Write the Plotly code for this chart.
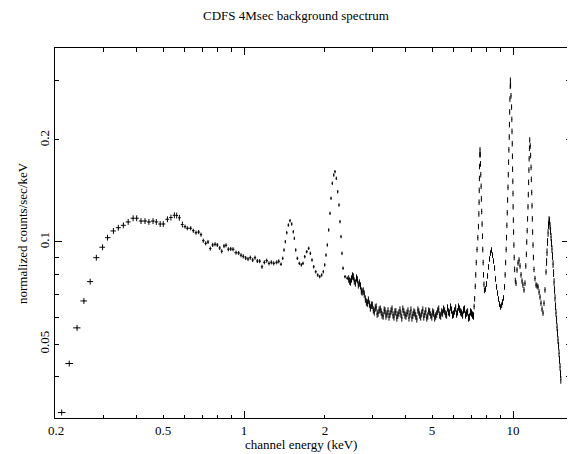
import numpy as np
import plotly.graph_objects as go

# ---- data (bin centre energy in keV, normalized counts/sec/keV) ----
energy_keV = [
    # soft band (wide bins)
    0.210, 0.224, 0.2395, 0.254, 0.268, 0.2825, 0.298, 0.311, 0.327, 0.341,
    0.356, 0.371, 0.387, 0.399, 0.414, 0.4285, 0.443, 0.459, 0.472, 0.488,
    0.501, 0.519, 0.535, 0.551, 0.562, 0.575, 0.590,
    0.6035, 0.6154, 0.6336, 0.6478, 0.6630, 0.6785, 0.6920, 0.7058, 0.7204, 0.7348,
    0.7494, 0.7649, 0.7802, 0.7957, 0.8124, 0.8263, 0.8425, 0.8571, 0.8743, 0.8925,
    0.9101, 0.9338, 0.9556, 0.9746, 0.9940, 1.0146, 1.0348, 1.0554, 1.0773, 1.0987,
    1.1206, 1.1440, 1.1666, 1.1899, 1.2145, 1.2386, 1.2634, 1.2896, 1.3233, 1.3460,
    # Al / Si / Au-M lines
    1.3728, 1.3931, 1.4086, 1.4243, 1.4415, 1.4616, 1.4825, 1.5042, 1.5251, 1.5382,
    1.5567, 1.5782, 1.6056, 1.6331, 1.6571, 1.6816, 1.7106, 1.7400, 1.7642, 1.7896,
    1.8157, 1.8477, 1.8793, 1.9116, 1.9445, 1.9716, 1.9953, 2.0174, 2.0402, 2.0648,
    2.0878, 2.1057, 2.1295, 2.1552, 2.1791, 2.2034, 2.2299, 2.2551, 2.2744, 2.2939,
    2.3135, 2.3335, 2.3741, 2.4210,
    # hard continuum
    2.45, 2.49, 2.53, 2.57, 2.62, 2.66, 2.71, 2.75, 2.80, 2.85,
    2.90, 2.95, 3.00, 3.05, 3.10, 3.15, 3.21, 3.26, 3.32, 3.37,
    3.43, 3.49, 3.55, 3.61, 3.67, 3.73, 3.80, 3.86, 3.93, 4.00,
    4.07, 4.14, 4.21, 4.28, 4.35, 4.43, 4.50, 4.58, 4.66, 4.74,
    4.82, 4.90, 4.99, 5.07, 5.16, 5.25, 5.34, 5.43, 5.52, 5.62,
    5.71, 5.81, 5.91, 6.01, 6.12, 6.22, 6.33, 6.44, 6.55, 6.66,
    6.78, 6.89, 7.01, 7.13,
    # Ni K alpha
    7.17, 7.20, 7.24, 7.27, 7.30, 7.35, 7.40, 7.44, 7.465, 7.48,
    7.49, 7.50, 7.51, 7.525, 7.54, 7.555, 7.57, 7.59, 7.61, 7.63,
    7.65, 7.675, 7.70, 7.72, 7.745, 7.77, 7.80, 7.83,
    # Ni K beta bump
    7.90, 7.97, 8.04, 8.11, 8.18, 8.25, 8.32, 8.39, 8.46, 8.54,
    8.61, 8.68, 8.76, 8.83, 8.91, 8.99, 9.07, 9.14, 9.22, 9.30,
    # Au L alpha
    9.35, 9.39, 9.43, 9.46, 9.49, 9.52, 9.55, 9.58, 9.605, 9.63,
    9.655, 9.685, 9.70, 9.72, 9.74, 9.765, 9.78, 9.795, 9.83, 9.88,
    9.90, 9.915, 9.935, 9.95, 9.965, 9.985, 10.00, 10.01, 10.03, 10.05,
    10.08, 10.10, 10.14, 10.20,
    10.26, 10.35, 10.44, 10.53, 10.62, 10.71, 10.80, 10.89, 10.99, 11.08,
    # Au L beta
    11.16, 11.21, 11.25, 11.29, 11.33, 11.37, 11.40, 11.43, 11.46, 11.48,
    11.51, 11.54, 11.59, 11.63, 11.67, 11.70, 11.74, 11.77, 11.80, 11.83,
    11.87, 11.91, 11.97, 12.07,
    12.18, 12.28, 12.39, 12.50, 12.60, 12.71, 12.82, 12.93, 13.04, 13.15,
    13.27,
    # Au L gamma and roll-off
    13.33, 13.38, 13.44, 13.50, 13.55, 13.61, 13.67, 13.73, 13.79, 13.85,
    13.90, 13.96, 14.02, 14.09, 14.15, 14.21, 14.27, 14.33, 14.39, 14.45,
    14.52, 14.58, 14.64, 14.70, 14.77, 14.83, 14.89, 14.96, 15.02, 15.06,
]

counts = [
    0.0314, 0.0438, 0.0558, 0.0670, 0.0764, 0.0899, 0.0965, 0.1030, 0.1078, 0.1102,
    0.1120, 0.1146, 0.1175, 0.1175, 0.1153, 0.1153, 0.1146, 0.1153, 0.1146, 0.1130,
    0.1130, 0.1167, 0.1181, 0.1199, 0.1197, 0.1179, 0.1126,
    0.1110, 0.1098, 0.1098, 0.1080, 0.1065, 0.1070, 0.1051, 0.1009, 0.0991, 0.1000,
    0.0956, 0.0980, 0.0985, 0.0980, 0.0960, 0.0939, 0.0973, 0.0978, 0.0952, 0.0954,
    0.0952, 0.0930, 0.0928, 0.0914, 0.0907, 0.0897, 0.0891, 0.0899, 0.0885, 0.0899,
    0.0879, 0.0878, 0.0845, 0.0871, 0.0881, 0.0865, 0.0871, 0.0865, 0.0871, 0.0877,
    0.0860, 0.0895, 0.0947, 0.1002, 0.1065, 0.1122, 0.1156, 0.1130, 0.1072, 0.1025,
    0.0947, 0.0895, 0.0865, 0.0856, 0.0865, 0.0905, 0.0936, 0.0958, 0.0926, 0.0885,
    0.0845, 0.0817, 0.0799, 0.0790, 0.0799, 0.0817, 0.0856, 0.0915, 0.0980, 0.1085,
    0.1215, 0.1346, 0.1490, 0.1576, 0.1612, 0.1541, 0.1407, 0.1286, 0.1148, 0.1037,
    0.0926, 0.0837, 0.0790, 0.0782,
    0.0778, 0.0762, 0.0794, 0.0767, 0.0783, 0.0747, 0.0742, 0.0712, 0.0702, 0.0665,
    0.0674, 0.0639, 0.0651, 0.0622, 0.0643, 0.0617, 0.0634, 0.0609, 0.0630, 0.0605,
    0.0626, 0.0613, 0.0634, 0.0601, 0.0622, 0.0609, 0.0630, 0.0597, 0.0622, 0.0605,
    0.0626, 0.0613, 0.0597, 0.0622, 0.0605, 0.0630, 0.0609, 0.0617, 0.0601, 0.0626,
    0.0605, 0.0622, 0.0601, 0.0617, 0.0605, 0.0626, 0.0609, 0.0622, 0.0634, 0.0613,
    0.0639, 0.0617, 0.0630, 0.0613, 0.0639, 0.0622, 0.0634, 0.0617, 0.0630, 0.0609,
    0.0622, 0.0601, 0.0617, 0.0605,
    0.0645, 0.068, 0.074, 0.080, 0.087, 0.095, 0.103, 0.111, 0.121, 0.131,
    0.142, 0.154, 0.167, 0.181, 0.187, 0.181, 0.170, 0.158, 0.146, 0.134,
    0.123, 0.113, 0.104, 0.095, 0.087, 0.080, 0.075, 0.072,
    0.0727, 0.0752, 0.0794, 0.0844, 0.0891, 0.0928, 0.0947, 0.0915, 0.0879, 0.0838,
    0.0778, 0.0737, 0.0707, 0.0679, 0.0656, 0.0643, 0.0651, 0.0665, 0.0684, 0.0737,
    0.080, 0.087, 0.095, 0.103, 0.112, 0.122, 0.133, 0.145, 0.158, 0.172,
    0.187, 0.204, 0.222, 0.242, 0.264, 0.288, 0.300, 0.290, 0.270, 0.250,
    0.230, 0.212, 0.195, 0.179, 0.164, 0.151, 0.139, 0.127, 0.116, 0.107,
    0.098, 0.090, 0.083, 0.077,
    0.0756, 0.0827, 0.0867, 0.0885, 0.0850, 0.0800, 0.0767, 0.0747, 0.0722, 0.0756,
    0.085, 0.092, 0.100, 0.108, 0.117, 0.127, 0.138, 0.150, 0.163, 0.176,
    0.189, 0.200, 0.192, 0.180, 0.166, 0.153, 0.140, 0.128, 0.117, 0.107,
    0.098, 0.090, 0.083, 0.078,
    0.0747, 0.0742, 0.0737, 0.0712, 0.0688, 0.0660, 0.0634, 0.0617, 0.0660, 0.0722,
    0.0816,
    0.0873, 0.0933, 0.1000, 0.1063, 0.1122, 0.1161, 0.1153, 0.1115, 0.1078, 0.1035,
    0.0993, 0.0953, 0.0909, 0.0861, 0.0810, 0.0762, 0.0722, 0.0684, 0.0647, 0.0617,
    0.0589, 0.0561, 0.0539, 0.0514, 0.0494, 0.0470, 0.0449, 0.0428, 0.0408, 0.0392,
]

# additional continuum bins (the dense, noisy 2.4-7.1 keV band)
continuum_energy_keV = [
    2.47, 2.51, 2.55, 2.595, 2.64, 2.685, 2.73, 2.775, 2.825, 2.875,
    2.925, 2.975, 3.025, 3.075, 3.125, 3.18, 3.235, 3.29, 3.345, 3.40,
    3.46, 3.52, 3.58, 3.64, 3.70, 3.765, 3.83, 3.895, 3.965, 4.035,
    4.105, 4.175, 4.245, 4.315, 4.39, 4.465, 4.54, 4.62, 4.70, 4.78,
    4.86, 4.945, 5.03, 5.115, 5.205, 5.295, 5.385, 5.475, 5.57, 5.665,
    5.76, 5.86, 5.96, 6.065, 6.17, 6.275, 6.385, 6.495, 6.605, 6.72,
    6.835, 6.95, 7.07,
]
continuum_counts = [
    0.0767, 0.0778, 0.0789, 0.0757, 0.0773, 0.0757, 0.0717, 0.0717, 0.0679, 0.0660,
    0.0656, 0.0651, 0.0630, 0.0639, 0.0613, 0.0630, 0.0622, 0.0605, 0.0626, 0.0613,
    0.0601, 0.0626, 0.0609, 0.0622, 0.0597, 0.0617, 0.0613, 0.0634, 0.0609, 0.0617,
    0.0597, 0.0630, 0.0609, 0.0617, 0.0593, 0.0622, 0.0601, 0.0630, 0.0613, 0.0597,
    0.0626, 0.0609, 0.0622, 0.0597, 0.0613, 0.0634, 0.0605, 0.0617, 0.0626, 0.0609,
    0.0622, 0.0643, 0.0609, 0.0626, 0.0613, 0.0643, 0.0622, 0.0609, 0.0634, 0.0617,
    0.0597, 0.0622, 0.0609,
]

# relative 1-sigma errors (percent) by energy band, read from the error-bar heights
err_band_edges_keV = [0.595, 1.36, 2.43, 7.15, 13.3]
err_band_pct = [2.0, 1.4, 1.15, 2.5, 1.9, 2.6]

x_tick_labels = ["0.2", "0.5", "1", "2", "5", "10"]
y_tick_labels = ["0.05", "0.1", "0.2"]

# ---- derived arrays ----
E = np.array(energy_keV + continuum_energy_keV, dtype=float)
V = np.array(counts + continuum_counts, dtype=float)
idx = np.argsort(E)
E, V = E[idx], V[idx]
lE = np.log10(E)
mid = (lE[1:] + lE[:-1]) / 2
lo = np.concatenate([[lE[0] - (lE[1] - lE[0]) / 2], mid])
hi = np.concatenate([mid, [lE[-1] + (lE[-1] - lE[-2]) / 2]])
x_minus = E - 10 ** lo
x_plus = 10 ** hi - E
band = np.searchsorted(err_band_edges_keV, E)
y_err = V * np.array(err_band_pct)[band] / 100.0

FONT = "Liberation Serif"
fs = 13

# the page body has an 8 px margin: the figure is sized/offset to compensate
W, H = 567, 446
L, R, T, B = 47, 6, 40, 36

fig = go.Figure()
fig.add_trace(go.Scatter(
    x=E, y=V, mode="markers",
    marker=dict(size=1, color="black"),
    error_x=dict(type="data", symmetric=False, array=x_plus, arrayminus=x_minus,
                 width=0, thickness=1, color="black"),
    error_y=dict(type="data", array=y_err, width=0, thickness=1, color="black"),
    hoverinfo="x+y", showlegend=False,
))
# carrier for the overlay axes that draw the long (decade) ticks
fig.add_trace(go.Scatter(x=[1.0], y=[0.1], xaxis="x2", yaxis="y2", mode="markers",
                         marker=dict(size=1, opacity=0), hoverinfo="skip", showlegend=False))

xr = [np.log10(0.1983), np.log10(16.15)]
yr = [np.log10(0.03025), np.log10(0.3735)]

common = dict(type="log", showgrid=False, zeroline=False, ticks="inside",
              tickcolor="black", tickwidth=1)

fig.update_layout(
    width=W, height=H,
    margin=dict(l=L, r=R, t=T, b=B),
    paper_bgcolor="white", plot_bgcolor="white",
    font=dict(family=FONT, size=fs, color="black"),
    title=dict(text="CDFS 4Msec background spectrum", x=(296 - 8) / W, xanchor="center",
               xref="container", y=1 - (15 - 8) / H, yanchor="middle", yref="container",
               font=dict(family=FONT, size=fs, color="black")),
    xaxis=dict(**common, range=xr, tickvals=[float(t) for t in x_tick_labels],
               ticktext=x_tick_labels, ticklen=3.5, showline=True, linecolor="black",
               linewidth=1, mirror="allticks",
               minor=dict(tickvals=[0.3, 0.4, 0.6, 0.7, 0.8, 0.9, 3, 4, 6, 7, 8, 9],
                          ticks="inside", ticklen=3.5, tickcolor="black", showgrid=False),
               tickfont=dict(family=FONT, size=fs, color="black")),
    yaxis=dict(**common, range=yr, tickvals=[float(t) for t in y_tick_labels],
               ticktext=y_tick_labels, tickangle=-90, ticklen=3.5, showline=True,
               linecolor="black", linewidth=1, mirror="allticks",
               minor=dict(tickvals=[0.04, 0.06, 0.07, 0.08, 0.09, 0.3],
                          ticks="inside", ticklen=3.5, tickcolor="black", showgrid=False),
               tickfont=dict(family=FONT, size=fs, color="black")),
    xaxis2=dict(**common, range=xr, overlaying="x", anchor="y2", side="bottom",
                tickvals=[1, 10], ticklen=7, showticklabels=False, showline=False,
                mirror="ticks"),
    yaxis2=dict(**common, range=yr, overlaying="y", anchor="x2", side="left",
                tickvals=[0.1], ticklen=7, showticklabels=False, showline=False,
                mirror="ticks"),
    annotations=[
        dict(text="channel energy (keV)", xref="paper", yref="paper",
             x=(301 - 55) / 514, y=(418 - 444) / 370, xanchor="center", yanchor="middle",
             showarrow=False, font=dict(family=FONT, size=fs, color="black")),
        dict(text="normalized counts/sec/keV", xref="paper", yref="paper",
             x=(22 - 55) / 514, y=0.5, xanchor="center", yanchor="middle",
             textangle=-90, showarrow=False,
             font=dict(family=FONT, size=fs, color="black")),
    ],
)

fig.write_html("out.html")
